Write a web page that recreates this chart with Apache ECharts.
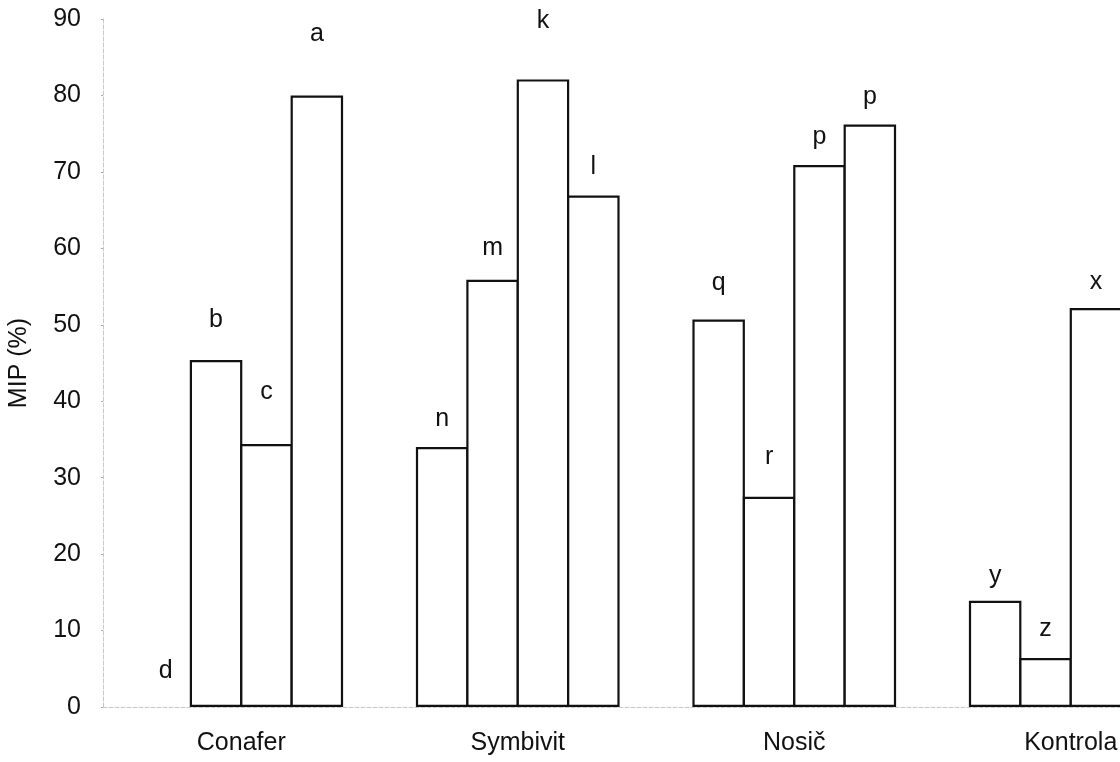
<!DOCTYPE html>
<html>
<head>
    <meta charset="utf-8">
    <script src="https://cdn.jsdelivr.net/npm/echarts@6/dist/echarts.min.js"></script>
    <style>
        html, body { margin: 0; padding: 0; background: #fff; }
        #main { width: 1120px; height: 762px; }
    </style>
</head>
<body>
<div id="main"></div>
<script type="text/javascript">
    // skupiny
    var categories = ['Conafer', 'Symbivit', 'Nosič', 'Kontrola'];

    // MIP (%) - ctyri sloupce v kazde skupine
    var bar1 = [0, 34.0, 50.7, 13.9];
    var bar2 = [45.4, 55.9, 27.5, 6.4];
    var bar3 = [34.4, 82.1, 70.9, 52.2];
    var bar4 = [80.0, 66.9, 76.2, null];   // posledni sloupec Kontroly je mimo obrazek

    // pismena (statisticka signifikance)
    var let1 = ['d', 'n', 'q', 'y'];
    var let2 = ['b', 'm', 'r', 'z'];
    var let3 = ['c', 'k', 'p', 'x'];
    var let4 = ['a', 'l', 'p', ''];

    // vyska, kde stoji pismeno (v jednotkach osy)
    var lev1 = [4.7, 37.6, 55.5, 17.1];
    var lev2 = [50.6, 60.0, 32.7, 10.2];
    var lev3 = [41.2, 89.7, 74.5, 55.6];
    var lev4 = [88.0, 70.6, 79.8, null];

    var yTicks = [0, 10, 20, 30, 40, 50, 60, 70, 80, 90];

    var font = 'Liberation Sans, Arial, sans-serif';
    var fs = 25;
    var myChart = echarts.init(document.getElementById('main'));

    function makeSeries(vals, letters, levels, dist) {
        return {
            type: 'bar',
            barWidth: 52.5,
            barGap: '-4%',
            data: vals.map(function (v, i) {
                var item = {
                    value: v,
                    label: {
                        show: !!letters[i],
                        formatter: letters[i],
                        distance: dist ? dist[i] : 10
                    }
                };
                // nulovy sloupec neni videt
                if (v === 0) item.itemStyle = { borderWidth: 0 };
                return item;
            }),
            itemStyle: { color: '#fff', borderColor: '#111', borderWidth: 2.2 },
            label: {
                position: 'top',
                fontFamily: font,
                fontSize: fs,
                lineHeight: fs,
                color: '#111'
            },
            emphasis: { disabled: true },
            animation: false
        };
    }

    var option = {
        animation: false,
        grid: { left: 103, right: -89, top: 19, bottom: 55, outerBoundsMode: 'none' },
        xAxis: {
            type: 'category',
            data: categories,
            axisLine: { show: true, lineStyle: { color: '#c8c8c8', width: 1, type: 'dashed' } },
            axisTick: { show: false },
            axisLabel: { fontFamily: font, fontSize: fs, color: '#111', margin: 24 }
        },
        yAxis: {
            type: 'value',
            min: yTicks[0],
            max: yTicks[yTicks.length - 1],
            interval: 10,
            name: 'MIP (%)',
            nameLocation: 'middle',
            nameGap: 71,
            nameTextStyle: { fontFamily: font, fontSize: fs, color: '#111' },
            axisLine: { show: true, lineStyle: { color: '#c8c8c8', width: 1, type: 'dashed' } },
            axisTick: { show: true, length: 2, lineStyle: { color: '#aaa' } },
            splitLine: { show: false },
            axisLabel: { fontFamily: font, fontSize: fs, color: '#111', margin: 22 }
        },
        series: [
            makeSeries(bar1, let1, lev1),
            makeSeries(bar2, let2, lev2),
            makeSeries(bar3, let3, lev3),
            makeSeries(bar4, let4, lev4)
        ]
    };
    myChart.setOption(option);

    // posun pismen na spravnou vysku
    function dists(vals, levels) {
        return vals.map(function (v, i) {
            if (v == null || levels[i] == null) return 10;
            var py = myChart.convertToPixel({ yAxisIndex: 0 }, v);
            var pl = myChart.convertToPixel({ yAxisIndex: 0 }, levels[i]);
            return py - pl - fs / 2;
        });
    }
    option.series = [
        makeSeries(bar1, let1, lev1, dists(bar1, lev1)),
        makeSeries(bar2, let2, lev2, dists(bar2, lev2)),
        makeSeries(bar3, let3, lev3, dists(bar3, lev3)),
        makeSeries(bar4, let4, lev4, dists(bar4, lev4))
    ];
    myChart.setOption(option, true);
</script>
</body>
</html>
